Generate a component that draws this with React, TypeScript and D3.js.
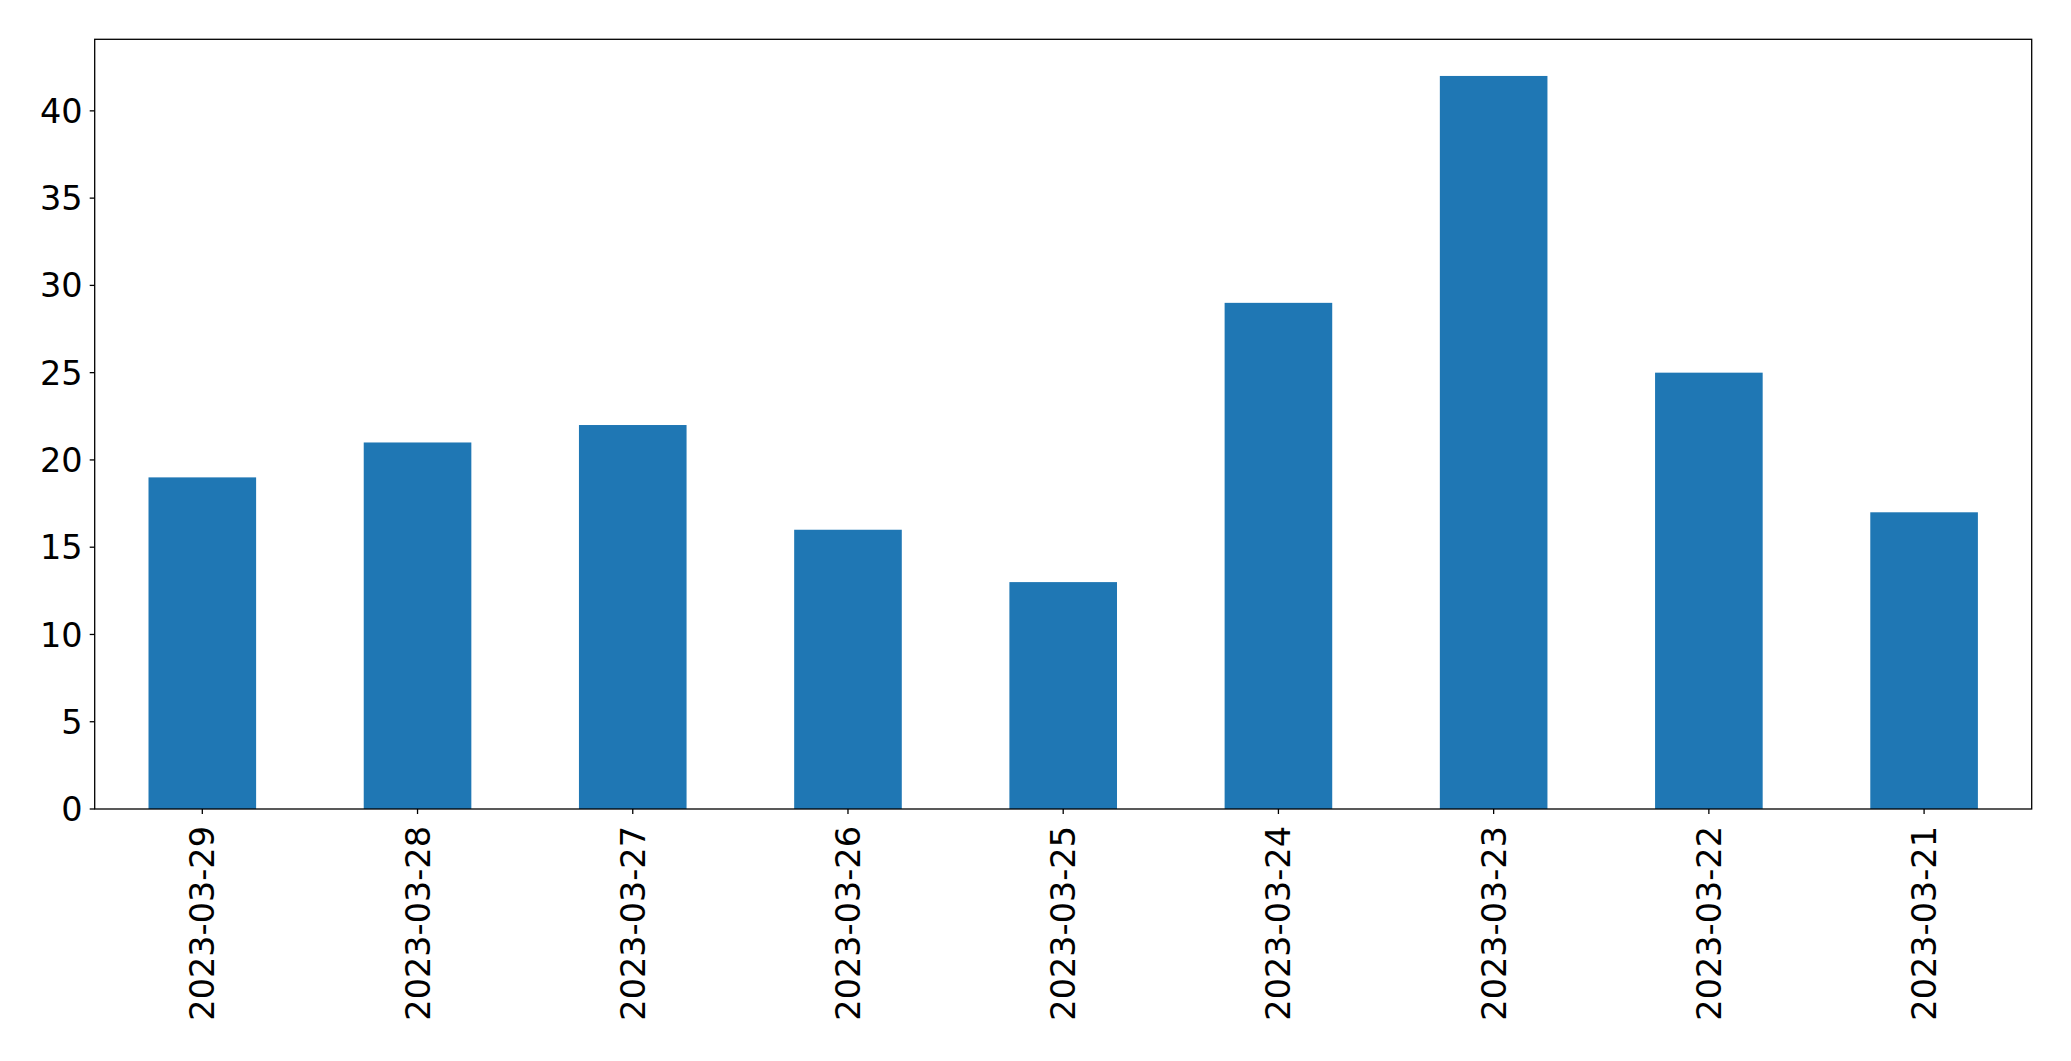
import React from "react";
import * as d3 from "d3";

const categories = ["2023-03-29", "2023-03-28", "2023-03-27", "2023-03-26", "2023-03-25", "2023-03-24", "2023-03-23", "2023-03-22", "2023-03-21"];
const values = [19, 21, 22, 16, 13, 29, 42, 25, 17];
const yTicks = [0, 5, 10, 15, 20, 25, 30, 35, 40];

const W = 2071;
const H = 1061;
const left = 94.7;
const right = 2031.7;
const top = 39.3;
const bottom = 809;
const FONT = "'DejaVu Sans', sans-serif";
const FS = 33.5;

export default function App() {
  const x = d3.scaleBand<string>().domain(categories).range([left, right]).paddingInner(0.5).paddingOuter(0.25);
  const y = d3.scaleLinear().domain([0, d3.max(values)! * 1.05]).range([bottom, top]);
  const bw = x.bandwidth();
  return (
    <div style={{ position: "absolute", left: 0, top: 0 }}>
      <svg width={W} height={H} style={{ display: "block", background: "#fff" }}>
        {values.map((v, i) => (
          <rect key={i} x={x(categories[i])!} y={y(v)} width={bw} height={y(0) - y(v)} fill="#1f77b4" />
        ))}
        <rect x={left} y={top} width={right - left} height={bottom - top} fill="none" stroke="#000" strokeWidth={1.3} />
        {yTicks.map((t) => (
          <g key={t}>
            <line x1={left - 5} x2={left} y1={y(t)} y2={y(t)} stroke="#000" strokeWidth={1.3} />
            <text x={left - 12} y={y(t)} dy="0.36em" textAnchor="end" fontFamily={FONT} fontSize={FS} fill="#000">{t}</text>
          </g>
        ))}
        {categories.map((c) => {
          const cx = x(c)! + bw / 2;
          return (
            <g key={c}>
              <line x1={cx} x2={cx} y1={bottom} y2={bottom + 5} stroke="#000" strokeWidth={1.3} />
              <text transform={`translate(${cx},${bottom + 17}) rotate(-90)`} dy="0.36em" textAnchor="end" fontFamily={FONT} fontSize={FS} fill="#000">{c}</text>
            </g>
          );
        })}
      </svg>
    </div>
  );
}
